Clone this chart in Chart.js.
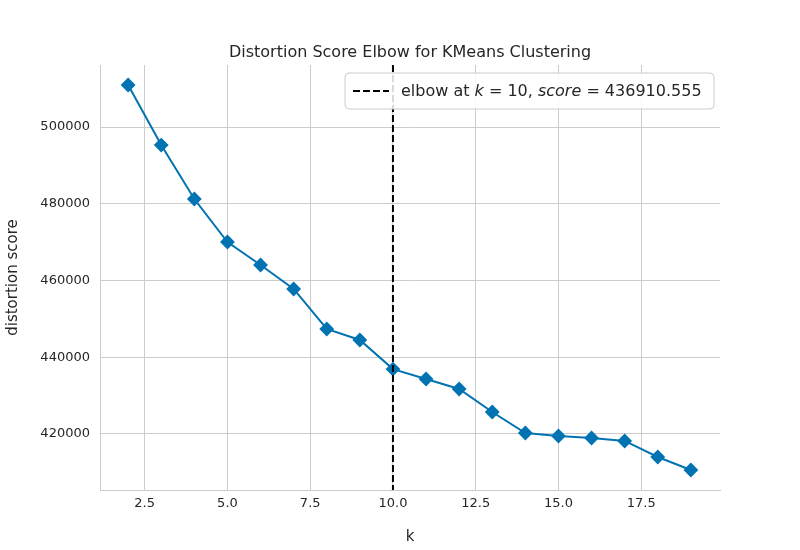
<!DOCTYPE html>
<html>
<head>
<meta charset="utf-8">
<script src="https://cdn.jsdelivr.net/npm/chart.js@4"></script>
<style>
  body { margin: 0; background: #fff; }
  #wrap { width: 800px; height: 550px; }
</style>
</head>
<body>
<div id="wrap"><canvas id="chart" width="800" height="550"></canvas></div>
<script>
const ks = [2, 3, 4, 5, 6, 7, 8, 9, 10, 11, 12, 13, 14, 15, 16, 17, 18, 19];
const scores = [510950, 495300, 481240, 470030, 464040, 457790, 447360, 444500, 436910,
  434330, 431720, 425730, 420260, 419480, 418960, 418180, 414010, 410620];
const elbowK = 10;
const elbowScore = 436910.555;
const xTicks = [2.5, 5.0, 7.5, 10.0, 12.5, 15.0, 17.5];
const yTicks = [420000, 440000, 460000, 480000, 500000];

const FONT = "DejaVu Sans";
const TXT = "#262626";

// title, elbow line and legend box
const extras = {
  id: "extras",
  afterDatasetsDraw(c) {
    const { ctx, chartArea: a, scales } = c;
    const x = scales.x.getPixelForValue(elbowK);
    ctx.save();
    ctx.strokeStyle = "#000";
    ctx.lineWidth = 2;
    ctx.setLineDash([7, 3]);
    ctx.beginPath();
    ctx.moveTo(x, a.top);
    ctx.lineTo(x, a.bottom);
    ctx.stroke();
    ctx.setLineDash([]);

    // legend
    const bx = a.right - 375, by = a.top + 8, bw = 369, bh = 36;
    ctx.fillStyle = "rgba(255,255,255,0.85)";
    ctx.strokeStyle = "#cccccc";
    ctx.lineWidth = 1;
    ctx.beginPath();
    ctx.roundRect(bx, by, bw, bh, 4);
    ctx.fill();
    ctx.stroke();
    ctx.strokeStyle = "#000";
    ctx.lineWidth = 2;
    ctx.setLineDash([7, 3]);
    ctx.beginPath();
    ctx.moveTo(bx + 8, by + bh / 2);
    ctx.lineTo(bx + 44, by + bh / 2);
    ctx.stroke();
    ctx.setLineDash([]);
    const parts = [
      ["elbow at ", false], ["k", true], [" = 10, ", false],
      ["score", true], [" = " + elbowScore.toFixed(3), false]
    ];
    let tx = bx + 56;
    ctx.fillStyle = TXT;
    ctx.textBaseline = "middle";
    parts.forEach(([t, it]) => {
      ctx.font = (it ? "italic " : "") + "16px '" + FONT + "'";
      ctx.fillText(t, tx, by + bh / 2 + 1);
      tx += ctx.measureText(t).width;
    });

    // title
    ctx.font = "16px '" + FONT + "'";
    ctx.textAlign = "center";
    ctx.textBaseline = "alphabetic";
    ctx.fillText("Distortion Score Elbow for KMeans Clustering", (a.left + a.right) / 2, a.top - 8);
    ctx.restore();
  }
};

new Chart(document.getElementById("chart"), {
  type: "line",
  data: {
    datasets: [{
      data: ks.map((k, i) => ({ x: k, y: scores[i] })),
      borderColor: "#0173b2",
      backgroundColor: "#0173b2",
      borderWidth: 2,
      pointStyle: "rectRot",
      pointRadius: 6,
      pointHoverRadius: 6,
      tension: 0
    }]
  },
  options: {
    responsive: false,
    animation: false,
    layout: { padding: { left: 0, right: 80, top: 65, bottom: 0 } },
    plugins: { legend: { display: false }, title: { display: false }, tooltip: { enabled: false } },
    scales: {
      x: {
        type: "linear", min: 1.15, max: 19.88,
        afterBuildTicks: s => { s.ticks = xTicks.map(v => ({ value: v })); },
        afterFit: s => { s.height = 60; },
        grid: { color: "#cccccc", lineWidth: 1, tickLength: 0 },
        border: { color: "#cccccc" },
        ticks: { color: TXT, font: { family: FONT, size: 13 }, padding: 6, callback: v => v.toFixed(1) },
        title: { display: true, text: "k", color: TXT, font: { family: FONT, size: 15 }, padding: { top: 4 } }
      },
      y: {
        min: 405400, max: 516160,
        afterBuildTicks: s => { s.ticks = yTicks.map(v => ({ value: v })); },
        afterFit: s => { s.width = 100; },
        grid: { color: "#cccccc", lineWidth: 1, tickLength: 0 },
        border: { color: "#cccccc" },
        ticks: { color: TXT, font: { family: FONT, size: 13 }, padding: 10, callback: v => String(v) },
        title: { display: true, text: "distortion score", color: TXT, font: { family: FONT, size: 15 }, padding: { bottom: 4 } }
      }
    }
  },
  plugins: [extras]
});
</script>
</body>
</html>
